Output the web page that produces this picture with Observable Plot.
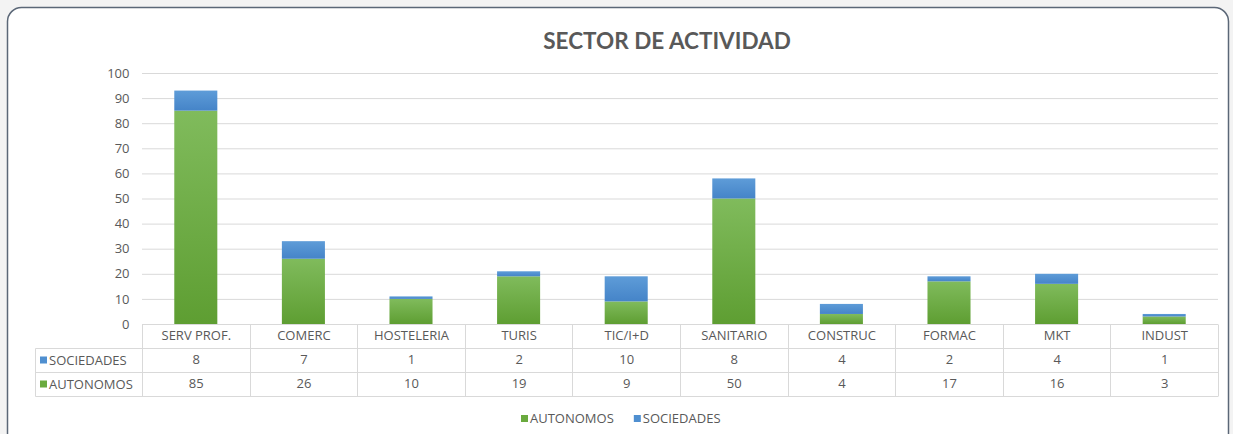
<!DOCTYPE html>
<html>
<head>
<meta charset="utf-8">
<script src="https://cdn.jsdelivr.net/npm/d3@7"></script>
<script src="https://cdn.jsdelivr.net/npm/@observablehq/plot@0.6"></script>
<style>
  html, body { margin: 0; padding: 0; background: #f3f3f3; }
  #chart { width: 1233px; height: 434px; overflow: hidden; }
</style>
</head>
<body>
<div id="chart"></div>
<script>
const categories = ["SERV PROF.", "COMERC", "HOSTELERIA", "TURIS", "TIC/I+D", "SANITARIO", "CONSTRUC", "FORMAC", "MKT", "INDUST"];
const autonomos  = [85, 26, 10, 19, 9, 50, 4, 17, 16, 3];
const sociedades = [8, 7, 1, 2, 10, 8, 4, 2, 4, 1];
const yTicks = [0, 10, 20, 30, 40, 50, 60, 70, 80, 90, 100];
const seriesNames = ["AUTONOMOS", "SOCIEDADES"];
const title = "SECTOR DE ACTIVIDAD";

const rows = categories.map((c, i) => ({cat: c, a: autonomos[i], s: sociedades[i]}));
const font = "'Open Sans', Lato, sans-serif";
const titleFont = "Lato, 'Open Sans', sans-serif";
const txt = "#595959";
const grid = "#d9d9d9";

const W = 1233, H = 434;
const chart = Plot.plot({
  width: W, height: H,
  marginTop: 73, marginBottom: 110, marginLeft: 142, marginRight: 15,
  style: {background: "transparent", fontFamily: font, fontSize: "13px", color: txt},
  x: {domain: categories, paddingInner: 0.6, paddingOuter: 0.3, round: false, axis: null},
  y: {domain: [0, 100], axis: null},
  marks: [
    Plot.gridY(yTicks, {stroke: grid, strokeOpacity: 1, strokeWidth: 1}),
    Plot.axisY(yTicks, {tickSize: 0, tickPadding: 13, fontSize: 13, fill: txt, label: null}),
    Plot.barY(rows, {x: "cat", y1: 0, y2: "a", fill: "url(#gGreen)"}),
    Plot.barY(rows, {x: "cat", y1: "a", y2: d => d.a + d.s, fill: "url(#gBlue)"}),
    Plot.text(rows, {x: "cat", text: "cat", frameAnchor: "bottom", dy: 15, fontSize: 13, fill: txt}),
    Plot.text(rows, {x: "cat", text: "s", frameAnchor: "bottom", dy: 39, fontSize: 13, fill: txt}),
    Plot.text(rows, {x: "cat", text: "a", frameAnchor: "bottom", dy: 63, fontSize: 13, fill: txt})
  ]
});

const svg = d3.select(chart);
const defs = svg.insert("defs", ":first-child");
function grad(id, top, bottom) {
  const g = defs.append("linearGradient").attr("id", id).attr("x1", 0).attr("y1", 0).attr("x2", 0).attr("y2", 1);
  g.append("stop").attr("offset", "0%").attr("stop-color", top);
  g.append("stop").attr("offset", "100%").attr("stop-color", bottom);
}
grad("gGreen", "#80bb5c", "#5e9e32");
grad("gBlue", "#5e9cd8", "#4584c8");

// frame
svg.insert("rect", "defs + *")
  .attr("x", 7.5).attr("y", 7.5).attr("width", 1221).attr("height", 440)
  .attr("rx", 14).attr("fill", "white").attr("stroke", "#5b6777").attr("stroke-width", 1.5);

// title
svg.append("text").attr("x", 667).attr("y", 49).attr("text-anchor", "middle")
  .attr("font-family", titleFont).attr("font-weight", "bold").attr("font-size", 22.5).attr("fill", txt)
  .text(title);

// table grid from the x scale
const xs = chart.scale("x");
const step = xs.step !== undefined ? xs.step : xs.bandwidth / 0.4;
const left = xs.range[0], right = xs.range[1];
const y0 = 324.5, r1 = 348.5, r2 = 372.5, r3 = 396.5;
const g = svg.append("g").attr("stroke", grid).attr("stroke-width", 1).attr("fill", "none");
categories.forEach((c, i) => {
  const xl = Math.round(left + i * step) + 0.5;
  g.append("line").attr("x1", xl).attr("x2", xl).attr("y1", y0).attr("y2", r3);
});
g.append("line").attr("x1", right + 0.5).attr("x2", right + 0.5).attr("y1", y0).attr("y2", r3);
g.append("line").attr("x1", 35.5).attr("x2", right).attr("y1", r1).attr("y2", r1);
g.append("line").attr("x1", 35.5).attr("x2", right).attr("y1", r2).attr("y2", r2);
g.append("line").attr("x1", 35.5).attr("x2", right).attr("y1", r3).attr("y2", r3);
g.append("line").attr("x1", left).attr("x2", right).attr("y1", y0).attr("y2", y0);
g.append("line").attr("x1", 35.5).attr("x2", 35.5).attr("y1", r1).attr("y2", r3);

const colors = {AUTONOMOS: "#6aaa3e", SOCIEDADES: "#4f8fd0"};
const leftRows = [["SOCIEDADES", 360.5], ["AUTONOMOS", 384.5]];
leftRows.forEach(([name, yc]) => {
  svg.append("rect").attr("x", 40).attr("y", yc - 4).attr("width", 7).attr("height", 7).attr("fill", colors[name]);
  svg.append("text").attr("x", 49).attr("y", yc).attr("dy", "0.35em").attr("text-anchor", "start")
    .attr("font-family", font).attr("font-size", 13).attr("fill", txt).text(name);
});

// legend
const legend = svg.append("g");
seriesNames.forEach((name) => {
  legend.append("rect").attr("x", 0).attr("y", 415).attr("width", 7).attr("height", 7).attr("fill", colors[name]);
  legend.append("text").attr("x", 0).attr("y", 418.5).attr("dy", "0.35em").attr("text-anchor", "start")
    .attr("font-family", font).attr("font-size", 13).attr("fill", txt).text(name);
});

document.getElementById("chart").appendChild(chart);
let lx2 = 521;
const ltexts = legend.selectAll("text").nodes();
legend.selectAll("rect").each(function(d, i) {
  const t = ltexts[i];
  d3.select(this).attr("x", lx2);
  d3.select(t).attr("x", lx2 + 9);
  lx2 += 9 + t.getComputedTextLength() + 20;
});
</script>
</body>
</html>
